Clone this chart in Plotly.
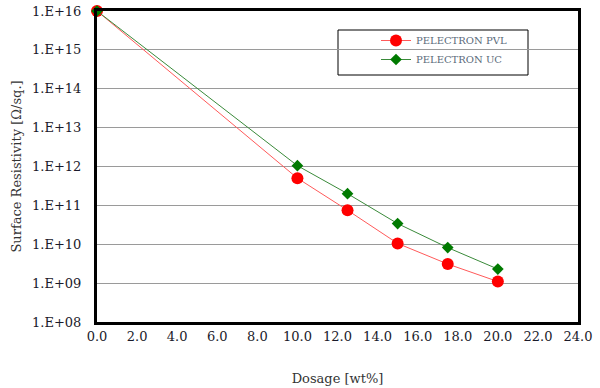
import plotly.graph_objects as go

dosage = [0, 10, 12.5, 15, 17.5, 20]
pvl = [1e16, 5e11, 7.5e10, 1.05e10, 3.1e9, 1.1e9]
uc = [1e16, 1.05e12, 2.0e11, 3.4e10, 8.2e9, 2.3e9]
ytick_vals = [1e8, 1e9, 1e10, 1e11, 1e12, 1e13, 1e14, 1e15, 1e16]
ytick_text = ["1.E+08", "1.E+09", "1.E+10", "1.E+11", "1.E+12", "1.E+13", "1.E+14", "1.E+15", "1.E+16"]
xtick_vals = [0, 2, 4, 6, 8, 10, 12, 14, 16, 18, 20, 22, 24]

font = "DejaVu Serif, Liberation Serif, serif"

L, R, T, B = 97, 22, 11, 66
W, H = 600, 388
pw, ph = W - L - R, H - T - B

def px(x):
    return (x - L) / pw

def py(y):
    return (H - B - y) / ph

fig = go.Figure()
fig.add_trace(go.Scatter(x=dosage, y=pvl, name="PELECTRON PVL", mode="lines+markers",
                         line=dict(color="#ff5a5a", width=1),
                         marker=dict(symbol="circle", size=12, color="#ff0000"),
                         cliponaxis=False))
fig.add_trace(go.Scatter(x=dosage, y=uc, name="PELECTRON UC", mode="lines+markers",
                         line=dict(color="#3a8a3a", width=1),
                         marker=dict(symbol="diamond", size=9, color="#007a00"),
                         cliponaxis=False))

fig.add_shape(type="rect", xref="paper", yref="paper",
              x0=px(338), x1=px(528), y0=py(75), y1=py(30),
              line=dict(color="black", width=1), fillcolor="white", layer="below")

fig.update_layout(
    width=W, height=H,
    margin=dict(l=L, r=R, t=T, b=B),
    paper_bgcolor="white", plot_bgcolor="white",
    font=dict(family=font, size=13, color="#1a1a1a"),
    showlegend=True,
    legend=dict(x=px(376), y=py(26), xanchor="left", yanchor="top",
                borderwidth=0, bgcolor="rgba(0,0,0,0)",
                font=dict(size=10, color="#5a6a7a", family=font),
                itemwidth=30, tracegroupgap=0),
    xaxis=dict(range=[0, 24], tickvals=xtick_vals,
               tickformat=".1f", showgrid=False, zeroline=False, automargin=False,
               showline=True, linecolor="black", linewidth=3, mirror=True,
               ticks="", title=dict(text="Dosage [wt%]", font=dict(size=13, color="#333"), standoff=32),
               tickfont=dict(size=13, color="#1a1a2a")),
    yaxis=dict(type="log", range=[8, 16], tickvals=ytick_vals, ticktext=ytick_text,
               showgrid=True, gridcolor="#9a9a9a", gridwidth=1, zeroline=False, automargin=False,
               showline=True, linecolor="black", linewidth=3, mirror=True,
               ticks="", ticklabelstandoff=10,
               title=dict(text="Surface Resistivity [Ω/sq.]", font=dict(size=13, color="#333"), standoff=8),
               tickfont=dict(size=13, color="#1a1a2a")),
)

fig.write_html("out.html", config={"displayModeBar": False},
               post_script="document.body.style.margin='0px';")
